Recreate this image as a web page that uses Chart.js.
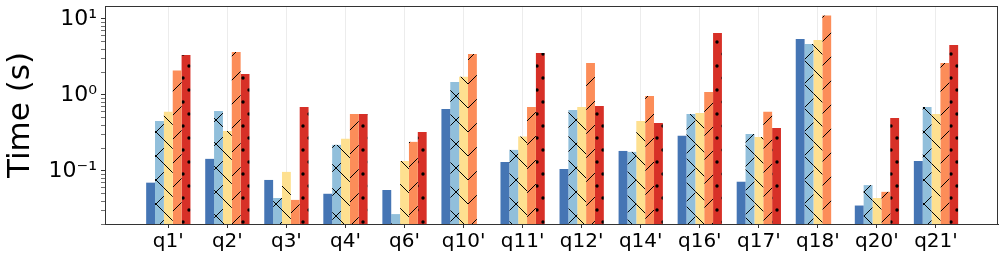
<!DOCTYPE html>
<html>
<head>
<meta charset="utf-8">
<script src="https://cdn.jsdelivr.net/npm/chart.js@4"></script>
<style>
  html, body { margin: 0; padding: 0; background: #fff; }
  #wrap { width: 1005px; height: 258px; }
</style>
</head>
<body>
<div id="wrap"><canvas id="chart"></canvas></div>
<script>
// categories (queries)
const categories = ["q1'", "q2'", "q3'", "q4'", "q6'", "q10'", "q11'", "q12'", "q14'", "q16'", "q17'", "q18'", "q20'", "q21'"];

// times in seconds (null = no bar)
const series1 = [0.070, 0.144, 0.076, 0.050, 0.056, 0.654, 0.131, 0.106, 0.183, 0.289, 0.072, 5.46, 0.035, 0.135];
const series2 = [0.455, 0.616, 0.044, 0.220, 0.027, 1.48, 0.189, 0.635, 0.178, 0.562, 0.307, 4.69, 0.065, 0.695];
const series3 = [0.600, 0.336, 0.097, 0.264, 0.135, 1.73, 0.283, 0.695, 0.455, 0.580, 0.280, 5.29, 0.044, 0.562];
const series4 = [2.09, 3.68, 0.0415, 0.562, 0.241, 3.46, 0.695, 2.64, 0.970, 1.095, 0.600, 11.06, 0.053, 2.64];
const series5 = [3.36, 1.89, 0.695, 0.562, 0.326, null, 3.57, 0.717, 0.428, 6.54, 0.368, null, 0.498, 4.55];

// y tick labels for the decades
const decadeLabels = { '-1': '10\u207B\u00B9', '0': '10\u2070', '1': '10\u00B9' };

// hatch fill helper
function hatch(color, kind) {
  const w = kind === '.' ? 12 : 24;
  const h = 24;
  const c = document.createElement('canvas');
  c.width = w; c.height = h;
  const g = c.getContext('2d');
  g.fillStyle = color;
  g.fillRect(0, 0, w, h);
  g.strokeStyle = '#000';
  g.fillStyle = '#000';
  g.lineWidth = 1;
  if (kind === '/' || kind === 'x') {
    g.beginPath();
    g.moveTo(-2, h + 2); g.lineTo(w + 2, -2);
    g.stroke();
  }
  if (kind === '\\' || kind === 'x') {
    g.beginPath();
    g.moveTo(-2, -2); g.lineTo(w + 2, h + 2);
    g.stroke();
  }
  if (kind === '.') {
    [[3, 6], [9, 18]].forEach(p => {
      g.beginPath();
      g.arc(p[0], p[1], 1.7, 0, Math.PI * 2);
      g.fill();
    });
  }
  return g.createPattern(c, 'repeat');
}

const seriesList = [series1, series2, series3, series4, series5];
const fills = [
  '#4575b4',
  hatch('#91bfdb', 'x'),
  hatch('#fee090', '\\'),
  hatch('#fc8d59', '/'),
  hatch('#d73027', '.')
];

const datasets = seriesList.map((vals, k) => ({
  label: 'series' + (k + 1),
  data: vals.map((v, i) => ({ x: i, y: v })),
  backgroundColor: fills[k],
  borderWidth: 0,
  categoryPercentage: 0.75,
  barPercentage: 1.0
}));

// frame round the plot area
const frame = {
  id: 'frame',
  afterDraw(chart) {
    const a = chart.chartArea;
    const ctx = chart.ctx;
    ctx.save();
    ctx.strokeStyle = '#333';
    ctx.lineWidth = 1;
    ctx.strokeRect(a.left + 0.5, a.top + 0.5, a.right - a.left - 1, a.bottom - a.top);
    ctx.restore();
  }
};

new Chart(document.getElementById('chart'), {
  type: 'bar',
  data: { datasets },
  plugins: [frame],
  options: {
    responsive: true,
    maintainAspectRatio: false,
    animation: false,
    layout: { padding: { top: 6, right: 7, left: 0, bottom: 0 } },
    plugins: { legend: { display: false }, tooltip: { enabled: false } },
    scales: {
      x: {
        type: 'linear',
        offset: false,
        min: -1.072,
        max: 14.05,
        afterBuildTicks: scale => {
          scale.ticks = categories.map((c, i) => ({ value: i }));
        },
        afterFit: scale => {
          scale.height = 34;
          scale.paddingLeft = 0;
          scale.paddingRight = 0;
        },
        ticks: {
          autoSkip: false,
          maxRotation: 0,
          padding: 2,
          color: '#000',
          font: { family: 'DejaVu Sans', size: 20 },
          callback: v => categories[v]
        },
        grid: {
          offset: false,
          color: '#ececec',
          lineWidth: 1,
          tickColor: '#333',
          tickLength: 4
        },
        border: { color: '#333' }
      },
      y: {
        type: 'logarithmic',
        min: 0.02,
        max: 14.8,
        afterBuildTicks: scale => {
          const t = [];
          for (let e = -2; e <= 1; e++) {
            for (let m = 1; m <= 9; m++) {
              const v = m * Math.pow(10, e);
              if (v >= scale.min && v <= scale.max) t.push({ value: v });
            }
          }
          scale.ticks = t;
        },
        afterFit: scale => {
          scale.width = 105;
          scale.paddingTop = 0;
          scale.paddingBottom = 0;
        },
        title: {
          display: true,
          text: 'Time (s)',
          color: '#000',
          font: { family: 'DejaVu Sans', size: 31 },
          padding: { top: 2, bottom: 0 }
        },
        ticks: {
          autoSkip: false,
          padding: 4,
          color: '#000',
          font: { family: 'DejaVu Sans', size: 22 },
          callback: v => {
            const e = Math.log10(v);
            const r = Math.round(e);
            return Math.abs(e - r) < 1e-9 ? (decadeLabels[r] || '') : '';
          }
        },
        grid: {
          drawOnChartArea: false,
          tickLength: 4,
          tickColor: '#333',
          tickWidth: ctx => {
            const e = Math.log10(ctx.tick.value);
            return Math.abs(e - Math.round(e)) < 1e-9 ? 1 : 0.7;
          }
        },
        border: { color: '#333' }
      }
    }
  }
});
</script>
</body>
</html>
